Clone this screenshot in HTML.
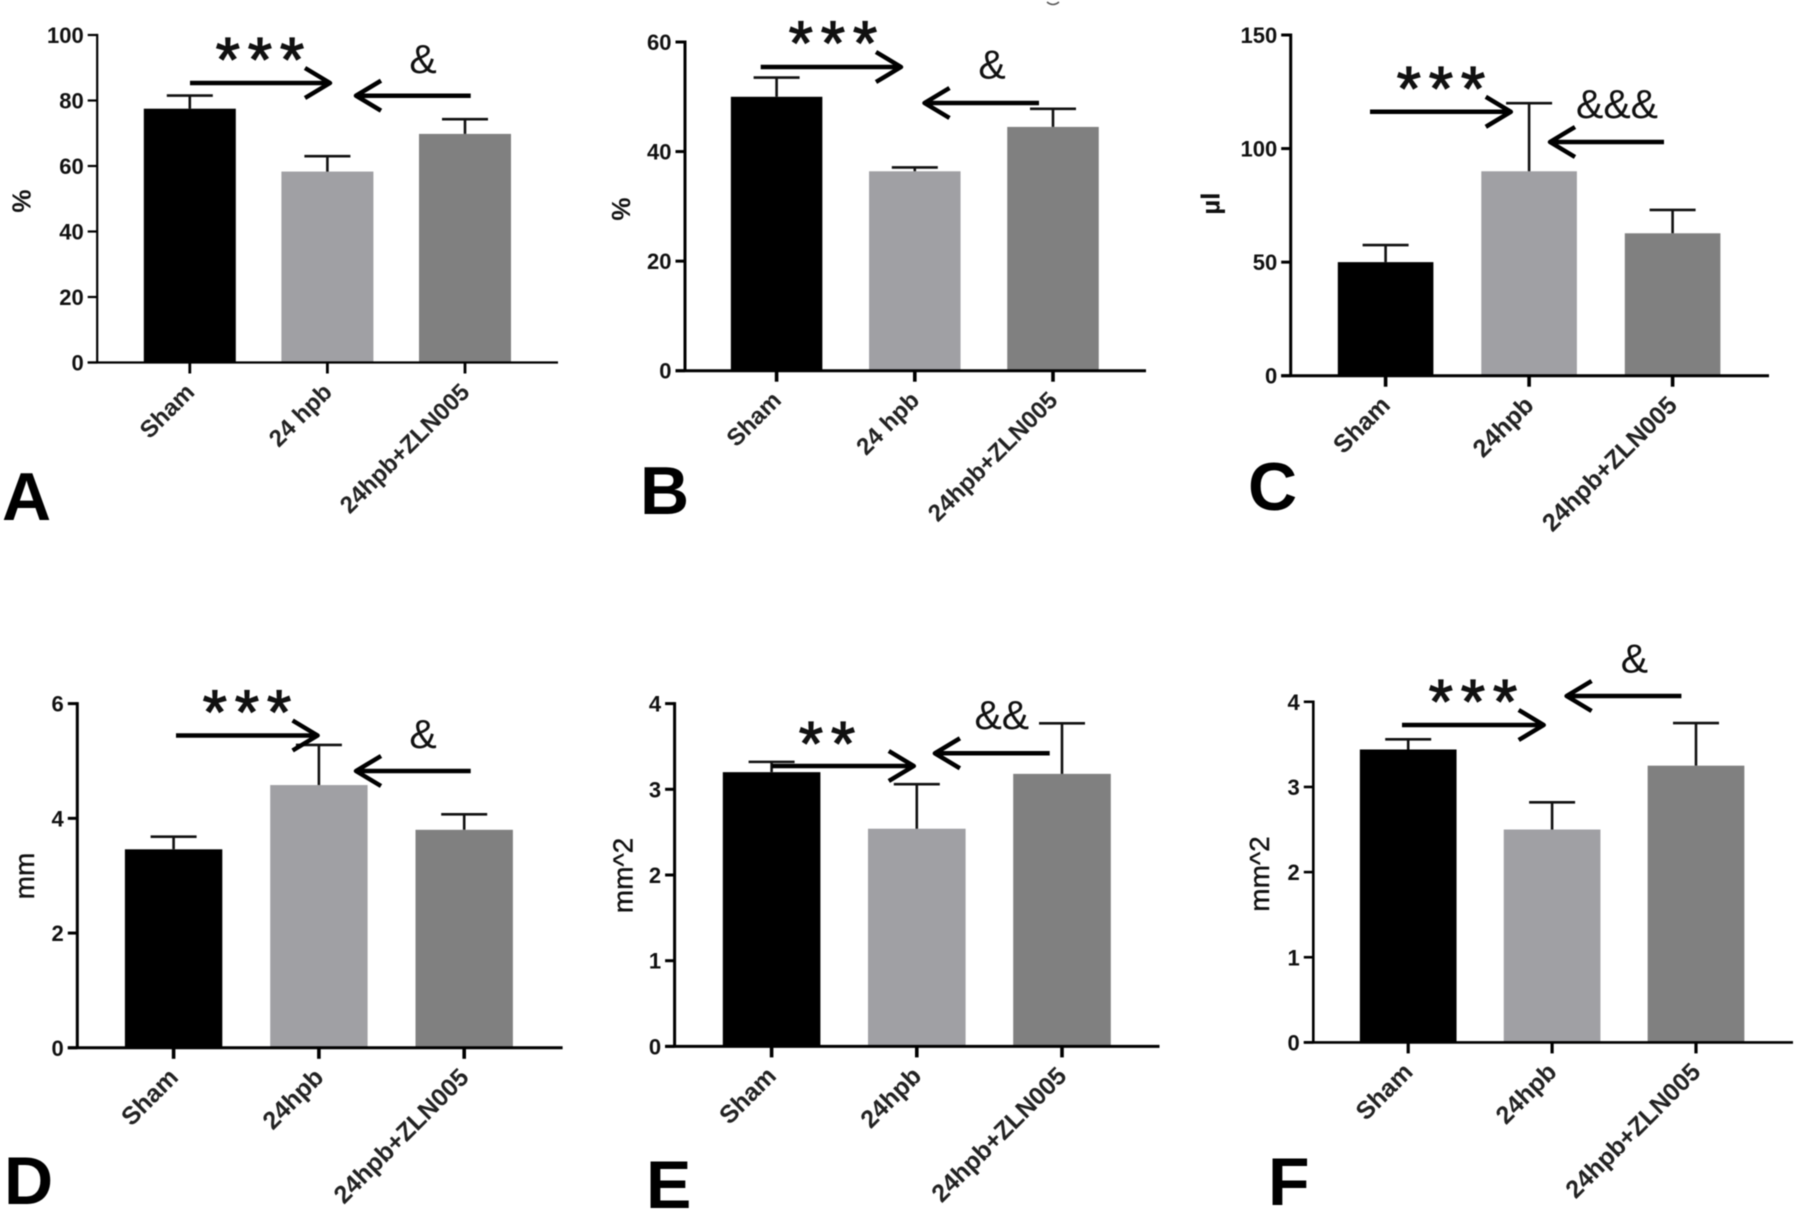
<!DOCTYPE html>
<html lang="en">
<head>
<meta charset="utf-8">
<title>Six-panel bar charts</title>
<style>
html,body{margin:0;padding:0;background:#fff;}
body{width:1800px;height:1218px;overflow:hidden;}
svg{display:block;filter:blur(0.45px);font-family:"Liberation Sans",Arial,sans-serif;}
.arrow{fill:none;stroke:#000;stroke-width:4.5;stroke-linejoin:round;}
.panel-letter{font-size:68px;font-weight:bold;fill:#000;}
.sig{font-size:41px;fill:#111;text-anchor:middle;}
.stars{font-size:62px;fill:#111;stroke:#111;stroke-width:1.3;text-anchor:middle;letter-spacing:8px;}
</style>
</head>
<body>
<svg id="figure" xmlns="http://www.w3.org/2000/svg" width="1800" height="1218" viewBox="0 0 1800 1218">
  <rect width="1800" height="1218" fill="#fff"/>
  <g id="plots"></g>

  <g>
    <text class="stars" x="264" y="81">***</text>
    <path class="arrow" d="M190 83H330M305 68L330 83L305 98"/>
    <path class="arrow" d="M470.7 95.7H356M381 80.7L356 95.7L381 110.7"/>
    <text class="sig" x="423" y="73">&amp;</text>
    <text class="panel-letter" x="2" y="520">A</text>
  </g>
  <g>
    <text class="stars" x="837" y="64.5">***</text>
    <path class="arrow" d="M760.7 67H901M876 52L901 67L876 82"/>
    <path class="arrow" d="M1039 103H924.5M949.5 88L924.5 103L949.5 118"/>
    <text class="sig" x="992" y="78.5">&amp;</text>
    <text class="panel-letter" x="640" y="514">B</text>
    <path d="M1047 2Q1053 7 1059 2" fill="none" stroke="#555" stroke-width="1.5"/>
  </g>
  <g>
    <text class="stars" x="1445" y="110">***</text>
    <path class="arrow" d="M1370 111.8H1510.8M1485.8 96.8L1510.8 111.8L1485.8 126.8"/>
    <path class="arrow" d="M1664 142H1550M1575 127L1550 142L1575 157"/>
    <text class="sig" x="1617" y="118">&amp;&amp;&amp;</text>
    <text class="panel-letter" x="1248" y="510">C</text>
  </g>
  <g>
    <text class="stars" x="251" y="733.5">***</text>
    <path class="arrow" d="M176 735.5H317.6M292.6 720.5L317.6 735.5L292.6 750.5"/>
    <path class="arrow" d="M470.7 771H356M381 756L356 771L381 786"/>
    <text class="sig" x="423" y="748">&amp;</text>
    <text class="panel-letter" x="4" y="1204">D</text>
  </g>
  <g>
    <text class="stars" x="831" y="765">**</text>
    <path class="arrow" d="M772 766H913.8M888.8 751L913.8 766L888.8 781"/>
    <path class="arrow" d="M1049.7 753.3H934.9M959.9 738.3L934.9 753.3L959.9 768.3"/>
    <text class="sig" x="1001.8" y="729">&amp;&amp;</text>
    <text class="panel-letter" x="646" y="1208">E</text>
  </g>
  <g>
    <text class="stars" x="1477" y="723">***</text>
    <path class="arrow" d="M1402 725H1543.7M1518.7 710L1543.7 725L1518.7 740"/>
    <path class="arrow" d="M1681.4 696H1566.6M1591.6 681L1566.6 696L1591.6 711"/>
    <text class="sig" x="1634.4" y="672.5">&amp;</text>
    <text class="panel-letter" x="1268" y="1205">F</text>
  </g>
</svg>

<script>
// Panel A
const categoriesA = ['Sham', '24 hpb', '24hpb+ZLN005'];
const valuesA = [77.5, 58.3, 69.8];
const errorsA = [4.0, 4.7, 4.5];
const yTicksA = [0, 20, 40, 60, 80, 100];
// Panel B
const categoriesB = ['Sham', '24 hpb', '24hpb+ZLN005'];
const valuesB = [50.0, 36.4, 44.5];
const errorsB = [3.5, 0.7, 3.3];
const yTicksB = [0, 20, 40, 60];
// Panel C
const categoriesC = ['Sham', '24hpb', '24hpb+ZLN005'];
const valuesC = [50, 90, 62.7];
const errorsC = [7.5, 30, 10.3];
const yTicksC = [0, 50, 100, 150];
// Panel D
const categoriesD = ['Sham', '24hpb', '24hpb+ZLN005'];
const valuesD = [3.46, 4.58, 3.80];
const errorsD = [0.22, 0.70, 0.27];
const yTicksD = [0, 2, 4, 6];
// Panel E
const categoriesE = ['Sham', '24hpb', '24hpb+ZLN005'];
const valuesE = [3.20, 2.54, 3.18];
const errorsE = [0.12, 0.52, 0.59];
const yTicksE = [0, 1, 2, 3, 4];
// Panel F
const categoriesF = ['Sham', '24hpb', '24hpb+ZLN005'];
const valuesF = [3.44, 2.50, 3.25];
const errorsF = [0.12, 0.32, 0.50];
const yTicksF = [0, 1, 2, 3, 4];

const barColors = ['#000000', '#a0a0a4', '#808080'];
const SVG_NS = 'http://www.w3.org/2000/svg';
const plots = document.getElementById('plots');

function make(tag, parent, attrs, text) {
  const el = document.createElementNS(SVG_NS, tag);
  for (const k in attrs) el.setAttribute(k, attrs[k]);
  if (text !== undefined) el.textContent = text;
  parent.appendChild(el);
  return el;
}

function drawPanel(p) {
  const yMax = p.yTicks[p.yTicks.length - 1];
  const yScale = v => p.base - (v / yMax) * (p.base - p.top);
  const xScale = i => p.x0 + i * p.step;
  const capHalf = 23;

  const g = make('g', plots, {});
  
  

  p.values.forEach((v, i) => {
    const cx = xScale(i);
    const bar = make('rect', g, {
      x: cx - p.barW / 2, y: yScale(v), width: p.barW, height: p.base - yScale(v), fill: barColors[i]
    });
    
    

    const topY = yScale(v + p.errors[i]);
    const err = make('path', g, {
      d: 'M' + cx + ' ' + yScale(v) + 'V' + topY + 'M' + (cx - capHalf) + ' ' + topY + 'H' + (cx + capHalf),
      fill: 'none', stroke: '#111', 'stroke-width': 2.6
    });
    
    

    const tick = make('line', g, {
      x1: cx, x2: cx, y1: p.base, y2: p.base + 11, stroke: '#000', 'stroke-width': p.lw + 0.6
    });
    
    

    const lx = cx + 6;
    const ly = p.base + 31;
    const label = make('text', g, {
      x: lx, y: ly, transform: 'rotate(-45 ' + lx + ' ' + ly + ')',
      'text-anchor': 'end', 'font-size': p.labelSize, 'font-weight': 'bold', fill: '#222'
    }, p.categories[i]);
    
    
  });

  const yAxis = make('line', g, {
    x1: p.left, x2: p.left, y1: p.top - p.lw / 2, y2: p.base, stroke: '#000', 'stroke-width': p.lw
  });
  
  

  const xAxis = make('line', g, {
    x1: p.left - 9.5, x2: p.right, y1: p.base, y2: p.base, stroke: '#000', 'stroke-width': p.lw
  });
  
  

  p.yTicks.forEach(t => {
    const y = yScale(t);
    const tick = make('line', g, {
      x1: p.left - 9.5, x2: p.left, y1: y, y2: y, stroke: '#000', 'stroke-width': p.lw
    });
    
    

    const label = make('text', g, {
      x: p.left - 13.5, y: y + 8, 'text-anchor': 'end', 'font-size': 22, 'font-weight': 'bold', fill: '#111'
    }, String(t));
    
    
  });

  const title = make('text', g, {
    x: p.titleX, y: p.titleY, transform: 'rotate(-90 ' + p.titleX + ' ' + p.titleY + ')',
    'text-anchor': 'middle', 'font-size': p.titleSize, 'font-weight': p.titleWeight, fill: '#111',
    stroke: '#111', 'stroke-width': p.titleWeight === 'normal' ? 0.4 : 0
  }, p.title);
  
  
}

drawPanel({id:'a', categories:categoriesA, values:valuesA, errors:errorsA, yTicks:yTicksA,
  left:97.2, right:558, top:35, base:362.5, x0:189.8, step:137.6, barW:92, lw:2.2, labelSize:24,
  title:'%', titleX:30.5, titleY:201, titleSize:26, titleWeight:'bold'});
drawPanel({id:'b', categories:categoriesB, values:valuesB, errors:errorsB, yTicks:yTicksB,
  left:685, right:1146, top:42, base:370.7, x0:776.6, step:138.2, barW:91.5, lw:3, labelSize:24,
  title:'%', titleX:630, titleY:209, titleSize:26, titleWeight:'bold'});
drawPanel({id:'c', categories:categoriesC, values:valuesC, errors:errorsC, yTicks:yTicksC,
  left:1290.7, right:1769, top:35, base:375.7, x0:1385.6, step:143.5, barW:95.6, lw:3, labelSize:25,
  title:'\u00b5l', titleX:1219.5, titleY:203.6, titleSize:26, titleWeight:'bold'});
drawPanel({id:'d', categories:categoriesD, values:valuesD, errors:errorsD, yTicks:yTicksD,
  left:77.3, right:562.6, top:703.6, base:1047.8, x0:173.6, step:145.3, barW:97.4, lw:3, labelSize:25,
  title:'mm', titleX:34, titleY:876, titleSize:28, titleWeight:'normal'});
drawPanel({id:'e', categories:categoriesE, values:valuesE, errors:errorsE, yTicks:yTicksE,
  left:674.6, right:1159.5, top:703.6, base:1046.4, x0:771.6, step:145.2, barW:97.6, lw:3, labelSize:25,
  title:'mm^2', titleX:632.5, titleY:875.5, titleSize:28, titleWeight:'normal'});
drawPanel({id:'f', categories:categoriesF, values:valuesF, errors:errorsF, yTicks:yTicksF,
  left:1313.3, right:1793, top:701.8, base:1042.4, x0:1408.2, step:143.9, barW:96.7, lw:2.6, labelSize:25,
  title:'mm^2', titleX:1268.8, titleY:874, titleSize:28, titleWeight:'normal'});
</script>
</body>
</html>
